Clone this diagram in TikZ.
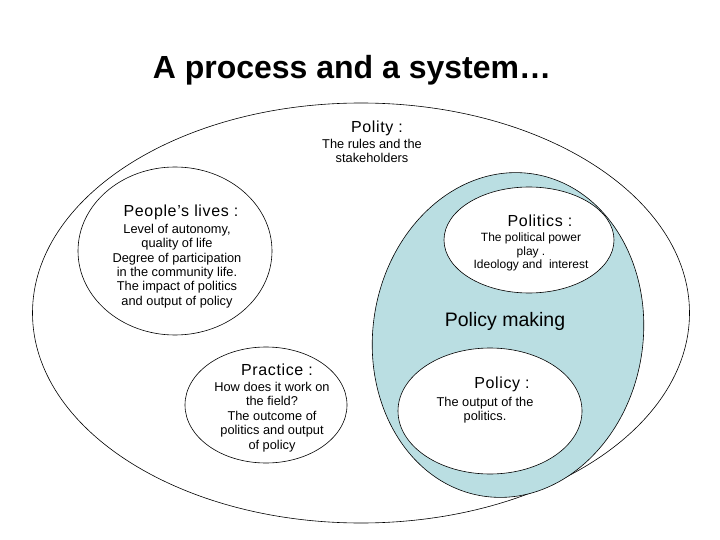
\documentclass[tikz,border=0pt]{standalone}
\usepackage{fontspec}
\setmainfont{Liberation Sans}
\usetikzlibrary{shapes.geometric}
\definecolor{policyblue}{RGB}{186,222,226}

\begin{document}
\begin{tikzpicture}[x=1pt, y=-1pt,
    zone/.style={draw, ellipse, inner sep=0pt, line width=0.6pt},
    head/.style={font=\fontsize{16}{18}\selectfont\addfontfeature{LetterSpace=4}, inner sep=0pt},
    body/.style={font=\fontsize{12.8}{14.4}\selectfont, align=center, inner sep=0pt}]
    \useasboundingbox (0,0) rectangle (720,540);
    \node[font=\bfseries\fontsize{32}{36}\selectfont] (title) at (352,70) {A process and a system…};
    % the rings
    \node[zone, minimum width=657pt, minimum height=420pt] (polity) at (361,313) {};
    \node[zone, minimum width=194pt, minimum height=168pt] (lives) at (175,251) {};
    \node[zone, fill=policyblue, minimum width=270pt, minimum height=326pt, rotate=-9] (making) at (508,335) {};
    \node[zone, fill=white, minimum width=170pt, minimum height=106pt] (politics) at (529,240) {};
    \node[zone, fill=white, minimum width=184pt, minimum height=126pt] (policy) at (490,411) {};
    \node[zone, minimum width=162pt, minimum height=116pt] (practice) at (266,405) {};
    % texts
    \node[head] (polityhead) at (377,128) {Polity :};
    \node[body] (politybody) at (372,151) {The rules and the\\stakeholders};
    \node[head] (liveshead) at (181,212) {People’s lives :};
    \node[body] (livesbody) at (177,266) {Level of autonomy,\\quality of life\\Degree of participation\\in the community life.\\The impact of politics\\and output of policy};
    \node[head] (politicshead) at (540,221) {Politics :};
    \node[body, font=\fontsize{12}{13.5}\selectfont] (politicsbody) at (531,252) {The political power\\play .\\Ideology and~ interest};
    \node[head, font=\fontsize{19.5}{22}\selectfont] (makinghead) at (505,321) {Policy making};
    \node[head] (practicehead) at (277,370) {Practice :};
    \node[body] (practicebody) at (272,417) {How does it work on\\the field?\\The outcome of\\politics and output\\of policy};
    \node[head] (policyhead) at (502,384) {Policy :};
    \node[body] (policybody) at (485,410) {The output of the\\politics.};
\end{tikzpicture}
\end{document}
